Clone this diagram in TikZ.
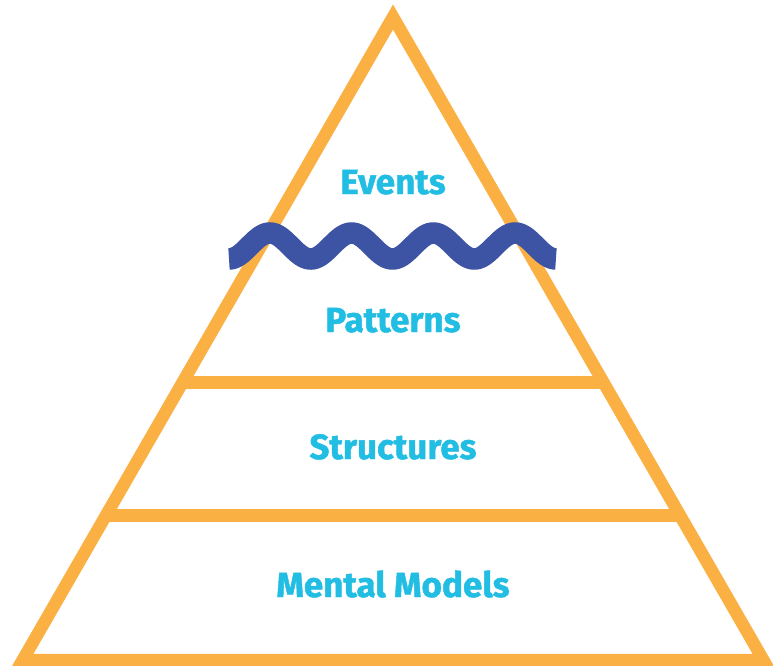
\documentclass[tikz,border=0pt]{standalone}
\usepackage{fontspec}
\setmainfont{Fira Sans}
\newfontfamily\lvlfont{Fira Sans}[BoldFeatures={FakeBold=1.3}]
\definecolor{pyrorange}{HTML}{FBB044}
\definecolor{wavebl}{HTML}{3D53A4}
\definecolor{labcyan}{HTML}{22BDE3}
\tikzset{
  pyrline/.style={draw=pyrorange, line width=12.5pt, line join=miter},
  barline/.style={draw=pyrorange, line width=13pt},
  waveline/.style={draw=wavebl, line width=21.5pt},
  lvl/.style={text=labcyan, font=\lvlfont\fontsize{35}{35}\selectfont\bfseries, anchor=base, inner sep=0pt}
}
\begin{document}
\begin{tikzpicture}[x=1pt, y=-1pt]
\useasboundingbox (0,0) rectangle (773,666);
\coordinate (apex) at (393,17);
\coordinate (bl) at (22.7,660);
\coordinate (br) at (763.3,660);
\coordinate (l1) at (182.8,382);
\coordinate (r1) at (603.2,382);
\coordinate (l2) at (105.9,515.5);
\coordinate (r2) at (680.1,515.5);
\draw[pyrline] (apex) -- (bl) -- (br) -- cycle;
\draw[barline] (l1) -- (r1);
\draw[barline] (l2) -- (r2);
\draw[waveline] plot[domain=0:4, samples=200, smooth] ({229+81.75*\x}, {246+13*cos(360*\x)});
\node[lvl] (events) at (393,194) {Events};
\node[lvl] (patterns) at (393,332) {Patterns};
\node[lvl] (structures) at (393,459) {Structures};
\node[lvl] (mental) at (393,597) {Mental Models};
\end{tikzpicture}
\end{document}
